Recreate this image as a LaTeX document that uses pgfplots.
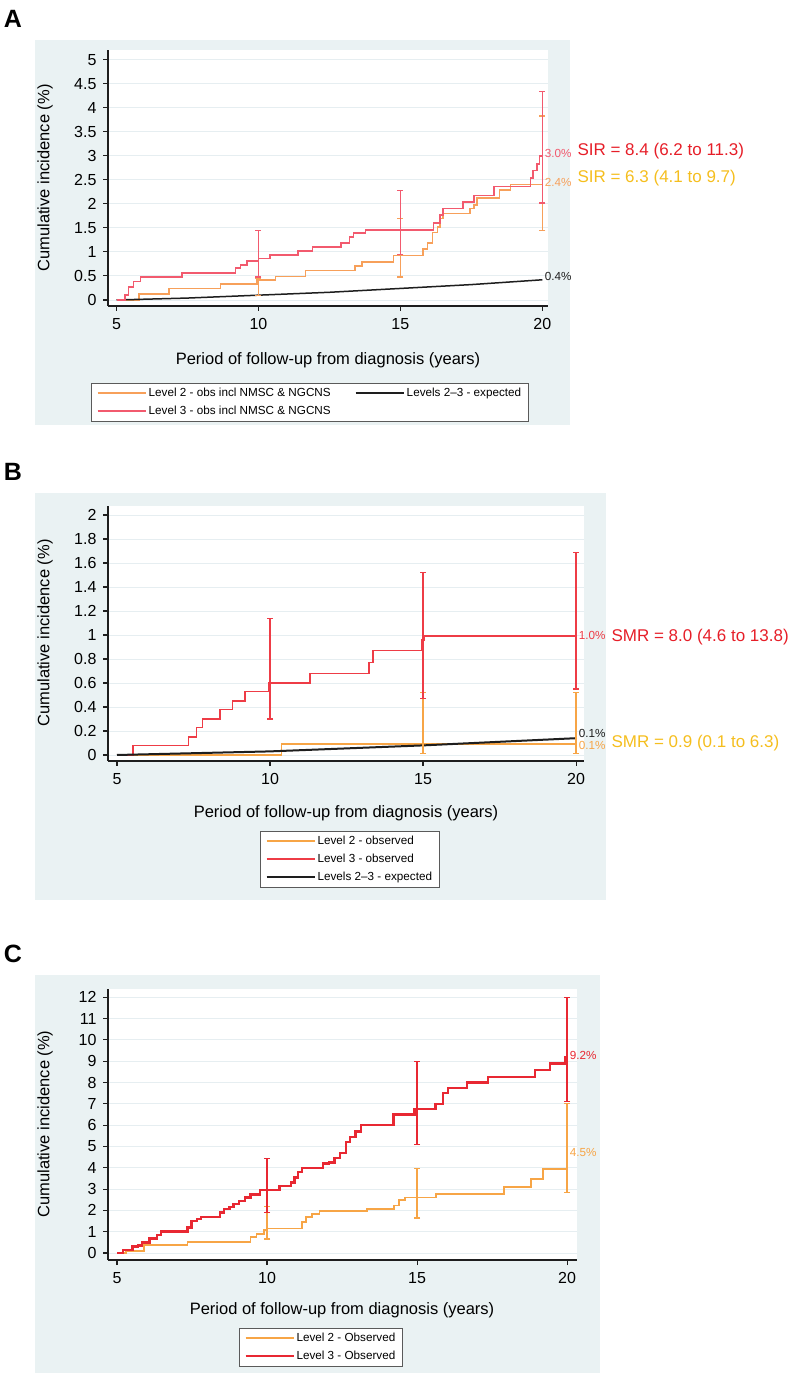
\documentclass[border=0pt]{standalone}
\usepackage{fontspec}
\setmainfont{Liberation Sans}
\usepackage{pgfplots}
\pgfplotsset{compat=1.18}

\definecolor{bgc}{RGB}{234,242,243}
\definecolor{gridc}{RGB}{230,238,241}
\definecolor{oA}{RGB}{247,160,90}
\definecolor{rA}{RGB}{242,90,110}
\definecolor{rB}{RGB}{238,60,70}
\definecolor{oB}{RGB}{247,165,70}
\definecolor{rC}{RGB}{232,40,50}
\definecolor{blk}{RGB}{30,30,30}
\definecolor{rT}{RGB}{230,30,40}
\definecolor{gT}{RGB}{245,190,30}
\definecolor{legc}{RGB}{90,90,90}

\newcommand{\fs}[1]{\fontsize{#1}{#1}\selectfont}

\pgfplotsset{
  stata/.style={
    scale only axis, anchor=south west, clip=false,
    axis x line*=bottom, axis y line*=left,
    axis line style={blk, line width=1.3pt},
    tick align=outside, major tick length=5pt,
    major tick style={blk, line width=1.1pt},
    ymajorgrids, grid style={gridc, line width=0.9pt},
    tick label style={font=\fs{16}},
    xticklabel style={yshift=-4pt},
    yticklabel style={xshift=-3pt},
    /pgf/number format/assume math mode=true,
    xtick={5,10,15,20},
    axis background/.style={fill=white},
    legend cell align=left,
    legend style={font=\fs{11.7}, draw=legc, line width=0.7pt, fill=white,
      inner xsep=5pt, inner ysep=3pt, anchor=north, row sep=4pt,
      /tikz/every even column/.append style={column sep=22pt}},
    legend image code/.code={\draw[##1, line width=2pt] (0pt,0pt) -- (48pt,0pt);},
  },
  ebar/.style={forget plot, draw=none, mark=none,
    error bars/y dir=both, error bars/y explicit,
    error bars/error bar style={line width=1.3pt, draw=#1},
    error bars/error mark=-,
    error bars/error mark options={rotate=90, line width=1.3pt, mark size=3pt, draw=#1}},
}

\begin{document}
\begin{tikzpicture}[x=1pt,y=1pt]
\useasboundingbox (0,0) rectangle (794,1373);

% ================= Panel A =================
\fill[bgc] (35,948) rectangle (570,1333);
\node[font=\fs{25}\bfseries] at (13,1354) {A};
\begin{axis}[stata, at={(108pt,1067pt)}, width=440pt, height=256pt,
  xmin=4.7, xmax=20.2, ymin=-0.125, ymax=5.2,
  ytick={0,0.5,1,1.5,2,2.5,3,3.5,4,4.5,5},
  legend columns=2,
  legend style={at={(axis description cs:0.459,-0.30)}},
  ]
\addplot[const plot, oA, line width=1.5pt] coordinates {
 (5,0) (5.79,0.12) (6.84,0.24) (8.66,0.33) (9.95,0.42) (10.6,0.49) (11.65,0.61)
 (13.4,0.71) (13.65,0.79) (14.75,0.92) (15.8,1.06) (15.95,1.19) (16.13,1.4)
 (16.3,1.52) (16.4,1.7) (16.5,1.8) (17.46,1.9) (17.6,1.98) (17.7,2.12)
 (18.5,2.29) (18.87,2.4) (20,2.4)};
\addlegendentry{Level 2 - obs incl NMSC \& NGCNS}
\addplot[blk, line width=1.5pt] coordinates {
 (5,0) (7.5,0.04) (10,0.1) (12.5,0.16) (15,0.24) (17.5,0.32) (20,0.42)};
\addlegendentry{Levels 2--3 - expected}
\addplot[const plot, rA, line width=1.5pt] coordinates {
 (5,0) (5.3,0.1) (5.42,0.27) (5.6,0.38) (5.85,0.48) (7.3,0.56) (9.2,0.67)
 (9.37,0.73) (9.6,0.81) (10.0,0.86) (10.4,0.94) (11.4,1.02) (11.9,1.1)
 (12.9,1.19) (13.2,1.31) (13.35,1.39) (13.77,1.46) (16.16,1.6) (16.4,1.77)
 (16.5,1.9) (17.2,2.04) (17.6,2.17) (18.3,2.36) (19.58,2.54) (19.68,2.69)
 (19.82,2.83) (19.9,3.0) (20,3.0)};
\addlegendentry{Level 3 - obs incl NMSC \& NGCNS}
\addplot[ebar=oA] coordinates {
 (10,0.33) += (0,0.13) -= (0,0.23)
 (15,0.92) += (0,0.77) -= (0,0.44)
 (20,2.4) += (0,1.43) -= (0,0.96)};
\addplot[ebar=rA] coordinates {
 (10,0.86) += (0,0.58) -= (0,0.38)
 (15,1.46) += (0,0.81) -= (0,0.52)
 (20,3.0) += (0,1.33) -= (0,0.98)};
\node[anchor=west, font=\fs{11.7}, text=rA, inner sep=1pt] at (axis cs:20.05,3.04) {3.0\%};
\node[anchor=west, font=\fs{11.7}, text=oA, inner sep=1pt] at (axis cs:20.05,2.44) {2.4\%};
\node[anchor=west, font=\fs{11.7}, text=blk, inner sep=1pt] at (axis cs:20.05,0.48) {0.4\%};
\end{axis}
\node[font=\fs{16.5}] at (328,1013) {Period of follow-up from diagnosis (years)};
\node[font=\fs{16.5}, rotate=90] at (45,1195) {Cumulative incidence (\%)};
\node[anchor=west, font=\fs{17}, text=rT] at (574,1222) {SIR = 8.4 (6.2 to 11.3)};
\node[anchor=west, font=\fs{17}, text=gT] at (574,1195) {SIR = 6.3 (4.1 to 9.7)};

% ================= Panel B =================
\fill[bgc] (35,473) rectangle (606,880);
\node[font=\fs{25}\bfseries] at (13,901) {B};
\begin{axis}[stata, at={(108pt,612pt)}, width=476pt, height=255pt,
  xmin=4.706, xmax=20.26, ymin=-0.05, ymax=2.075,
  ytick={0,0.2,0.4,0.6,0.8,1,1.2,1.4,1.6,1.8,2},
  legend columns=1,
  legend style={at={(axis description cs:0.508,-0.2745)}},
  ]
\addplot[const plot, oB, line width=1.6pt] coordinates {
 (5,0) (10.37,0.09) (20,0.09)};
\addlegendentry{Level 2 - observed}
\addplot[const plot, rB, line width=1.6pt] coordinates {
 (5,0) (5.52,0.08) (7.33,0.15) (7.6,0.23) (7.8,0.3) (8.37,0.38) (8.78,0.45)
 (9.18,0.53) (9.95,0.6) (11.3,0.68) (13.24,0.77) (13.37,0.87) (14.97,0.96)
 (15.03,0.99) (20,0.99)};
\addlegendentry{Level 3 - observed}
\addplot[blk, line width=2pt] coordinates {
 (5,0) (10,0.03) (15,0.08) (20,0.14)};
\addlegendentry{Levels 2--3 - expected}
\addplot[ebar=oB] coordinates {
 (15,0.09) += (0,0.43) -= (0,0.08)
 (20,0.09) += (0,0.43) -= (0,0.08)};
\addplot[ebar=rB] coordinates {
 (10,0.6) += (0,0.54) -= (0,0.3)
 (15,0.99) += (0,0.53) -= (0,0.52)
 (20,0.99) += (0,0.7) -= (0,0.44)};
\node[anchor=west, font=\fs{11.7}, text=rB, inner sep=1pt] at (axis cs:20.05,1.0) {1.0\%};
\node[anchor=west, font=\fs{11.7}, text=blk, inner sep=1pt] at (axis cs:20.05,0.18) {0.1\%};
\node[anchor=west, font=\fs{11.7}, text=oB, inner sep=1pt] at (axis cs:20.05,0.08) {0.1\%};
\end{axis}
\node[font=\fs{16.5}] at (346,560) {Period of follow-up from diagnosis (years)};
\node[font=\fs{16.5}, rotate=90] at (45,740) {Cumulative incidence (\%)};
\node[anchor=west, font=\fs{17}, text=rT] at (608,736) {SMR = 8.0 (4.6 to 13.8)};
\node[anchor=west, font=\fs{17}, text=gT] at (608,630) {SMR = 0.9 (0.1 to 6.3)};

% ================= Panel C =================
\fill[bgc] (35,0) rectangle (600,398);
\node[font=\fs{25}\bfseries] at (13,419) {C};
\begin{axis}[stata, at={(108pt,113pt)}, width=469pt, height=271pt,
  xmin=4.7, xmax=20.33, ymin=-0.33, ymax=12.39,
  ytick={0,1,2,3,4,5,6,7,8,9,10,11,12},
  legend columns=1,
  legend style={at={(axis description cs:0.454,-0.251)}},
  ]
\addplot[const plot, oB, line width=1.8pt] coordinates {
 (5,0) (5.3,0.1) (5.9,0.36) (7.35,0.52) (9.45,0.75) (9.65,0.9) (9.9,1.06)
 (10.0,1.15) (11.17,1.45) (11.3,1.69) (11.5,1.84) (11.75,1.97) (13.33,2.05)
 (14.22,2.23) (14.41,2.5) (14.6,2.6) (15.62,2.78) (17.91,3.1) (18.8,3.48)
 (19.2,3.95) (20,4.5)};
\addlegendentry{Level 2 - Observed}
\addplot[const plot, rC, line width=2.4pt] coordinates {
 (5,0) (5.19,0.15) (5.51,0.3) (5.7,0.36) (5.83,0.5) (6.08,0.67) (6.34,0.83)
 (6.46,1.0) (7.35,1.2) (7.48,1.5) (7.67,1.6) (7.8,1.7) (8.43,1.9) (8.56,2.05)
 (8.75,2.15) (8.88,2.3) (9.07,2.45) (9.26,2.6) (9.45,2.75) (9.77,2.95)
 (10.41,3.15) (10.79,3.3) (10.92,3.55) (11.04,3.8) (11.17,4.0) (11.87,4.2)
 (12.06,4.25) (12.25,4.45) (12.44,4.7) (12.63,5.2) (12.76,5.45) (12.95,5.7)
 (13.14,6.0) (14.22,6.5) (14.92,6.75) (15.62,7.0) (15.87,7.5) (16.03,7.75)
 (16.67,8.0) (17.37,8.27) (18.93,8.6) (19.43,8.9) (19.93,9.2) (20,9.2)};
\addlegendentry{Level 3 - Observed}
\addplot[ebar=oB] coordinates {
 (10,1.15) += (0,1.04) -= (0,0.49)
 (15,2.6) += (0,1.37) -= (0,0.96)
 (20,4.5) += (0,2.5) -= (0,1.67)};
\addplot[ebar=rC] coordinates {
 (10,2.9) += (0,1.52) -= (0,1.01)
 (15,6.75) += (0,2.25) -= (0,1.65)
 (20,9.2) += (0,2.8) -= (0,2.1)};
\node[anchor=west, font=\fs{11.7}, text=rC, inner sep=1pt] at (axis cs:20.05,9.25) {9.2\%};
\node[anchor=west, font=\fs{11.7}, text=oB, inner sep=1pt] at (axis cs:20.05,4.7) {4.5\%};
\end{axis}
\node[font=\fs{16.5}] at (342,63) {Period of follow-up from diagnosis (years)};
\node[font=\fs{16.5}, rotate=90] at (45,249) {Cumulative incidence (\%)};
\end{tikzpicture}
\end{document}
